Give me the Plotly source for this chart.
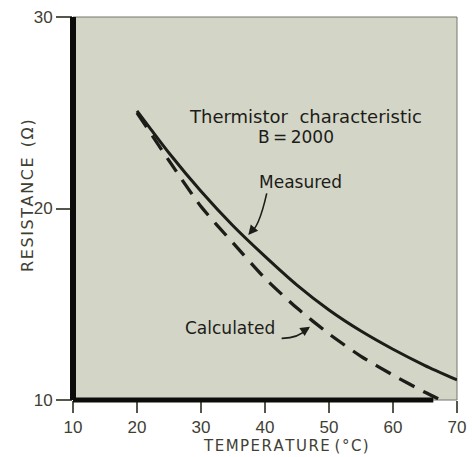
import plotly.graph_objects as go

# Thermistor resistance versus temperature
temperature_c = [20, 25, 30, 35, 40, 45, 50, 55, 60, 65, 70]
measured_ohm = [25.1, 22.9, 20.9, 19.1, 17.5, 16.0, 14.7, 13.6, 12.65, 11.8, 11.05]
calculated_ohm = [25.0, 22.5, 20.1, 18.2, 16.35, 14.8, 13.45, 12.28, 11.3, 10.4, 9.6]

x_ticks = [10, 20, 30, 40, 50, 60, 70]
y_ticks = [10, 20, 30]

INK = "#1c1c18"
LABEL = "#3f4034"
TICKFONT = "Liberation Sans, Arial, sans-serif"
TEXT = "DejaVu Sans, Verdana, sans-serif"
HAIR = "\u200a"


def spaced(s):
    """Open up the letter spacing of a title with hair spaces."""
    return HAIR.join(s)


W, H = 472, 457
L, R, T, B = 73, 15, 17, 57
pw, ph = W - L - R, H - T - B

fig = go.Figure()

fig.add_trace(go.Scatter(
    x=temperature_c, y=calculated_ohm, mode="lines", name="Calculated",
    line=dict(color=INK, width=3.3, dash="17px,10px", shape="spline", smoothing=0.6),
))
fig.add_trace(go.Scatter(
    x=temperature_c, y=measured_ohm, mode="lines", name="Measured",
    line=dict(color=INK, width=3, shape="spline", smoothing=0.6),
))

shapes = [
    # thin frame around the plotting area
    dict(type="rect", xref="paper", yref="paper", x0=0, y0=0, x1=1, y1=1,
         line=dict(color="#77776c", width=1), layer="below"),
    # heavy left and bottom axis rules
    dict(type="line", xref="paper", yref="paper", x0=0, y0=0, x1=0, y1=1,
         line=dict(color="#0c0c0a", width=6)),
    dict(type="line", xref="x", yref="paper", x0=10, y0=0, x1=66.3, y1=0,
         line=dict(color="#0c0c0a", width=5)),
    # leader lines from the labels to the curves
    dict(type="path", xref="x", yref="y",
         path="M 40.27,20.79 Q 38.98,18.89 37.6,18.72",
         line=dict(color=INK, width=1.6)),
    dict(type="path", xref="x", yref="y",
         path="M 42.6,13.22 Q 45.18,13.21 46.8,13.75",
         line=dict(color=INK, width=1.6)),
]

annotations = [
    dict(x=46.4, y=24.83, xref="x", yref="y", text="Thermistor  characteristic",
         showarrow=False, font=dict(family=TEXT, size=18, color=INK)),
    dict(x=44.84, y=23.73, xref="x", yref="y", text="B\u2009=\u20092000",
         showarrow=False, font=dict(family=TEXT, size=17, color=INK)),
    dict(x=45.47, y=21.38, xref="x", yref="y", text="Measured",
         showarrow=False, font=dict(family=TEXT, size=17, color=INK)),
    dict(x=34.53, y=13.76, xref="x", yref="y", text="Calculated",
         showarrow=False, font=dict(family=TEXT, size=17, color=INK)),
    # arrowheads at the ends of the leader lines
    dict(x=37.39, y=18.62, xref="x", yref="y", text="", showarrow=True,
         ax=5, ay=-6, arrowhead=2, arrowsize=1.2, arrowwidth=1.6, arrowcolor=INK),
    dict(x=47.03, y=13.83, xref="x", yref="y", text="", showarrow=True,
         ax=-6, ay=4, arrowhead=2, arrowsize=1.2, arrowwidth=1.6, arrowcolor=INK),
    # axis titles, placed in page pixels converted to paper fractions
    dict(x=(286 - L) / pw, y=(H - B - 446) / ph, xref="paper", yref="paper",
         xanchor="center", yanchor="middle",
         text=spaced("TEMPERATURE") + " " + spaced("(°C)"),
         showarrow=False, font=dict(family=TEXT, size=15, color=LABEL)),
    dict(x=(27 - L) / pw, y=(H - B - 196) / ph, xref="paper", yref="paper",
         xanchor="center", yanchor="middle",
         text=spaced("RESISTANCE") + "  " + spaced("(Ω)"),
         showarrow=False, textangle=-90, font=dict(family=TEXT, size=16, color=LABEL)),
]

fig.update_layout(
    width=W, height=H,
    margin=dict(l=L, r=R, t=T, b=B, autoexpand=False),
    paper_bgcolor="#ffffff",
    plot_bgcolor="#d3d5c7",
    showlegend=False,
    shapes=shapes,
    annotations=annotations,
    xaxis=dict(range=[10, 70], tickvals=x_ticks, ticktext=[str(v) for v in x_ticks],
               showgrid=False, zeroline=False, showline=False, automargin=False,
               ticks="outside", ticklen=12, tickwidth=1.5, tickcolor="#55564c",
               tickfont=dict(family=TICKFONT, size=17, color=LABEL), fixedrange=True),
    yaxis=dict(range=[10, 30], tickvals=y_ticks, ticktext=[str(v) for v in y_ticks],
               showgrid=False, zeroline=False, showline=False, automargin=False,
               ticks="outside", ticklen=16, tickwidth=1.5, tickcolor="#55564c",
               tickfont=dict(family=TICKFONT, size=17, color=LABEL), fixedrange=True),
)

fig.write_html("out.html")
